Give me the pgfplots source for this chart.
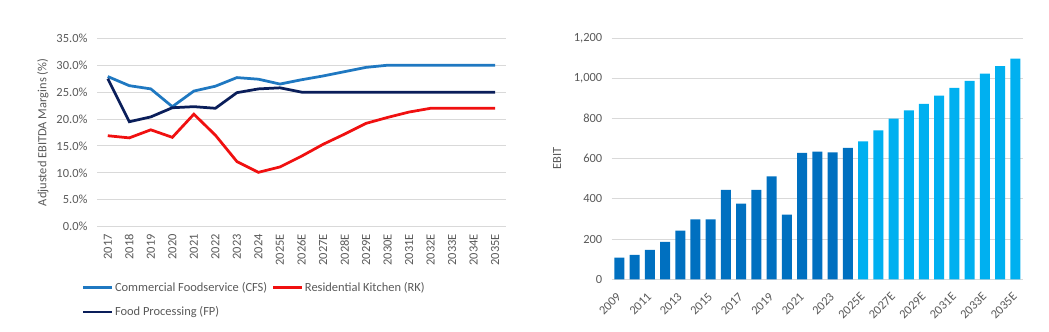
\documentclass[border=0pt]{standalone}
\usepackage{fontspec}
\setmainfont{Carlito}
\usepackage{pgfplots}
\pgfplotsset{compat=1.18}
\definecolor{cfs}{HTML}{1F78C1}
\definecolor{rk}{HTML}{F01010}
\definecolor{fp}{HTML}{0A1E5A}
\definecolor{barA}{HTML}{0070C0}
\definecolor{barB}{HTML}{00B0F0}
\definecolor{gridc}{HTML}{D9D9D9}
\definecolor{txt}{HTML}{595959}
\begin{document}
\begin{tikzpicture}
\useasboundingbox (0,0) rectangle (1049bp,332bp);
\pgfplotsset{
  common/.style={
    scale only axis,
    anchor=south west,
    axis line style={draw=none},
    major tick length=0pt,
    ymajorgrids,
    grid style={color=gridc, line width=1bp},
    tick label style={font=\fontsize{12.5}{14}\selectfont, text=txt},
    /pgf/number format/assume math mode=true,
  }
}
\begin{axis}[common,
  at={(97bp,105.3bp)}, width=409bp, height=188.4bp,
  xmin=-0.5, xmax=18.5, ymin=0, ymax=35,
  ytick={0,5,...,35},
  yticklabel={\pgfmathprintnumber[fixed,fixed zerofill,precision=1,assume math mode=true]{\tick}\%},
  yticklabel style={anchor=east, xshift=-6bp},
  xtick={0,...,18},
  xticklabels={2017,2018,2019,2020,2021,2022,2023,2024,2025E,2026E,2027E,2028E,2029E,2030E,2031E,2032E,2033E,2034E,2035E},
  xticklabel style={rotate=90, anchor=east, xshift=-4bp},
  ylabel={Adjusted EBITDA Margins (\%)},
  every axis y label/.style={at={(axis description cs:-0.132,0.5)}, rotate=90, anchor=center, font=\fontsize{12.5}{14}\selectfont, text=txt},
  legend columns=2,
  legend cell align=left,
  legend style={at={(axis description cs:-0.045,-0.275)}, anchor=north west, draw=none, fill=none,
    font=\fontsize{12.5}{14}\selectfont, text=txt, row sep=11bp,
    nodes={inner sep=1.5bp},
    /tikz/every even column/.append style={column sep=3bp}},
  legend image code/.code={\draw[#1] (0bp,0bp) -- (29bp,0bp);},
]
\addplot[cfs, line width=2.75bp] coordinates {
(0,27.9) (1,26.2) (2,25.6) (3,22.3) (4,25.2) (5,26.1) (6,27.7) (7,27.4) (8,26.5) (9,27.3)
(10,28.0) (11,28.8) (12,29.6) (13,30.0) (14,30.0) (15,30.0) (16,30.0) (17,30.0) (18,30.0)};
\addlegendentry{Commercial Foodservice (CFS)}
\addplot[rk, line width=2.75bp] coordinates {
(0,16.9) (1,16.5) (2,18.0) (3,16.6) (4,20.9) (5,17.0) (6,12.1) (7,10.1) (8,11.1) (9,13.1)
(10,15.3) (11,17.2) (12,19.2) (13,20.3) (14,21.3) (15,22.0) (16,22.0) (17,22.0) (18,22.0)};
\addlegendentry{Residential Kitchen (RK)}
\addplot[fp, line width=2.75bp] coordinates {
(0,27.5) (1,19.5) (2,20.4) (3,22.1) (4,22.3) (5,22.0) (6,24.9) (7,25.6) (8,25.8) (9,25.0)
(10,25.0) (11,25.0) (12,25.0) (13,25.0) (14,25.0) (15,25.0) (16,25.0) (17,25.0) (18,25.0)};
\addlegendentry{Food Processing (FP)}
\end{axis}

\begin{axis}[common,
  at={(611.7bp,52.7bp)}, width=411.3bp, height=241bp,
  xmin=-0.5, xmax=26.5, ymin=0, ymax=1200,
  ytick={0,200,...,1200},
  yticklabel style={anchor=east, xshift=-6bp, /pgf/number format/.cd, 1000 sep={,}},
  xtick={0,2,...,26},
  xticklabels={2009,2011,2013,2015,2017,2019,2021,2023,2025E,2027E,2029E,2031E,2033E,2035E},
  xticklabel style={xshift=2bp, yshift=-13bp, rotate=45, anchor=east},
  ylabel={EBIT},
  every axis y label/.style={at={(axis description cs:-0.133,0.5)}, rotate=90, anchor=center, font=\fontsize{12.5}{14}\selectfont, text=txt},
]
\addplot[ybar, bar shift=0pt, bar width=10bp, fill=barA, draw=none] coordinates {
(0,108) (1,121) (2,146) (3,186) (4,242) (5,299) (6,299) (7,445) (8,377) (9,445)
(10,513) (11,322) (12,629) (13,636) (14,632) (15,654)};
\addplot[ybar, bar shift=0pt, bar width=10bp, fill=barB, draw=none] coordinates {
(16,687) (17,742) (18,800) (19,841) (20,874) (21,915) (22,953) (23,988) (24,1024) (25,1062) (26,1099)};
\end{axis}
\end{tikzpicture}
\end{document}
